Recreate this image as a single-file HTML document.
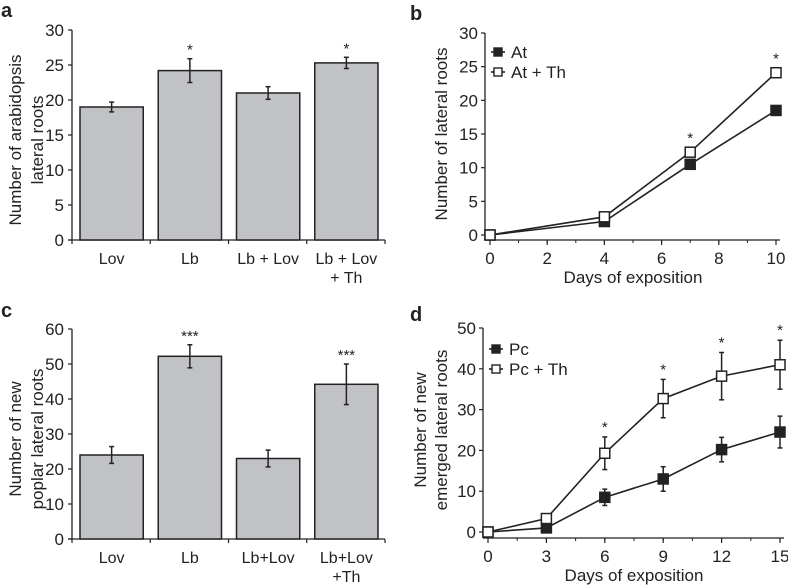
<!DOCTYPE html>
<html><head><meta charset="utf-8"><style>
body{margin:0;background:#fff;}
svg{display:block;font-family:"Liberation Sans",Arial,sans-serif;}
</style></head><body>
<svg id="s" width="788" height="587" viewBox="0 0 788 587"></svg>
<script>
// Panel a
const aCats=[["Lov"],["Lb"],["Lb + Lov"],["Lb + Lov","+ Th"]];
const aVals=[19,24.2,21,25.3];
const aErr=[0.7,1.7,0.9,0.8];
const aSig=["","*","","*"];
const aTicks=[0,5,10,15,20,25,30];
// Panel c
const cCats=[["Lov"],["Lb"],["Lb+Lov"],["Lb+Lov","+Th"]];
const cVals=[24,52.2,23,44.2];
const cErr=[2.4,3.3,2.4,5.8];
const cSig=["","***","","***"];
const cTicks=[0,10,20,30,40,50,60];
// Panel b
const bDays=[0,4,7,10];
const bAt=[0,2,10.5,18.5];
const bAtTh=[0,2.7,12.3,24.1];
const bSig=["","","*","*"];
const bYTicks=[0,5,10,15,20,25,30];
const bXTicks=[0,2,4,6,8,10];
// Panel d
const dDays=[0,3,6,9,12,15];
const dPc=[0,1,8.5,13,20.2,24.5];
const dPcErr=[0,0,2,3,3,3.9];
const dPcTh=[0,3.3,19.3,32.7,38.2,41];
const dPcThErr=[0,0,4,4.7,5.8,6];
const dSig=["","","*","*","*","*"];
const dYTicks=[0,10,20,30,40,50];
const dXTicks=[0,3,6,9,12,15];

const S=document.getElementById('s');
const NS='http://www.w3.org/2000/svg';
function el(t,a,p){const e=document.createElementNS(NS,t);for(const k in a)e.setAttribute(k,a[k]);(p||S).appendChild(e);return e;}
function txt(x,y,s,sz,anc,p){const e=el('text',{x:x,y:y,'font-size':sz,'text-anchor':anc||'middle',fill:'#222'},p);e.textContent=s;return e;}

function barPanel(letter,cats,vals,errs,sig,ticks,x0,x1,yTop,yBot,ymax,title,lblY){
  const g=el('g',{});
  
  
  const Y=v=>yBot-(v/ymax)*(yBot-yTop);
  const lt=txt(1,lblY,letter,20,'start',g);lt.setAttribute('font-weight','bold');
  
  
  el('line',{x1:x0,y1:yTop,x2:x0,y2:yBot,stroke:'#222','stroke-width':1.3},g);
  el('line',{x1:x0-4,y1:yBot,x2:x1,y2:yBot,stroke:'#222','stroke-width':1.3},g);
  ticks.forEach(t=>{
    el('line',{x1:x0-4,y1:Y(t),x2:x0,y2:Y(t),stroke:'#222','stroke-width':1.2},g);
    const tl=txt(x0-8,Y(t)+6,String(t),17,'end',g);
    
    
  });
  const n=cats.length, w=(x1-x0)/n;
  for(let i=0;i<=n;i++){el('line',{x1:x0+i*w,y1:yBot,x2:x0+i*w,y2:yBot+4,stroke:'#222','stroke-width':1.2},g);}
  vals.forEach((v,i)=>{
    const bx=x0+i*w+8, bw=w-15;
    const r=el('rect',{x:bx,y:Y(v),width:bw,height:yBot-Y(v),fill:'#c1c2c5',stroke:'#222','stroke-width':1.5},g);
    
    
    const cx=bx+bw/2;
    el('line',{x1:cx,y1:Y(v+errs[i]),x2:cx,y2:Y(v-errs[i]),stroke:'#222','stroke-width':1.5},g);
    el('line',{x1:cx-2.5,y1:Y(v+errs[i]),x2:cx+2.5,y2:Y(v+errs[i]),stroke:'#222','stroke-width':1.5},g);
    el('line',{x1:cx-2.5,y1:Y(v-errs[i]),x2:cx+2.5,y2:Y(v-errs[i]),stroke:'#222','stroke-width':1.5},g);
    if(sig[i]){const st=txt(cx,Y(v+errs[i])-4,sig[i],15,'middle',g);
      
      }
    cats[i].forEach((l,k)=>{const c=txt(cx,yBot+24+k*19,l,16,'middle',g);
      
      });
  });
  const tg=el('g',{transform:`translate(${43},${(yTop+yBot)/2+5}) rotate(-90)`},g);
  title.forEach((l,k)=>{const t=txt(0,(k-(title.length-1))*22,l,17,'middle',tg);
    
    });
}

function linePanel(letter,xs,s1,e1,s2,e2,sig,yt,xt,xmax,ymax,minor,x0,x1,yTop,yBot,axY,title,leg,legY,lblY){
  const g=el('g',{});
  
  
  const ax=x0-5;
  const X=v=>x0+(v/xmax)*(x1-x0), Y=v=>yBot-(v/ymax)*(yBot-yTop);
  const lt=txt(410,lblY,letter,20,'start',g);lt.setAttribute('font-weight','bold');
  
  
  el('line',{x1:ax,y1:yTop,x2:ax,y2:axY,stroke:'#222','stroke-width':1.3},g);
  el('line',{x1:ax,y1:axY,x2:x1+4,y2:axY,stroke:'#222','stroke-width':1.3},g);
  yt.forEach(t=>{el('line',{x1:ax-4,y1:Y(t),x2:ax,y2:Y(t),stroke:'#222','stroke-width':1.2},g);
    const tl=txt(ax-7,Y(t)+6,String(t),17,'end',g);
    
    });
  for(let v=0;v<=xmax+1e-9;v+=minor){el('line',{x1:X(v),y1:axY,x2:X(v),y2:axY+3,stroke:'#222','stroke-width':1},g);}
  xt.forEach(t=>{el('line',{x1:X(t),y1:axY,x2:X(t),y2:axY+5,stroke:'#222','stroke-width':1.2},g);
    const tl=txt(X(t),axY+24,String(t),17,'middle',g);
    
    });
  const xtitle=txt((x0+x1)/2,axY+43,'Days of exposition',17,'middle',g);
  
  
  const tg=el('g',{transform:`translate(${447},${(yTop+yBot)/2}) rotate(-90)`},g);
  title.forEach((l,k)=>{const t=txt(0,(k-(title.length-1))*21,l,17,'middle',tg);
    
    });
  function series(vals,errs,filled,name){
    const sg=el('g',{},g);
    
    
    if(errs) vals.forEach((v,i)=>{if(errs[i]>0){const cx=X(xs[i]);
      el('line',{x1:cx,y1:Y(v+errs[i]),x2:cx,y2:Y(v-errs[i]),stroke:'#222','stroke-width':1.5},sg);
      el('line',{x1:cx-2.5,y1:Y(v+errs[i]),x2:cx+2.5,y2:Y(v+errs[i]),stroke:'#222','stroke-width':1.5},sg);
      el('line',{x1:cx-2.5,y1:Y(v-errs[i]),x2:cx+2.5,y2:Y(v-errs[i]),stroke:'#222','stroke-width':1.5},sg);}});
    el('polyline',{points:vals.map((v,i)=>X(xs[i])+','+Y(v)).join(' '),fill:'none',stroke:'#222','stroke-width':1.6},sg);
    vals.forEach((v,i)=>{const r=el('rect',{x:X(xs[i])-5,y:Y(v)-5,width:10,height:10,fill:filled?'#222':'#fff',stroke:'#222','stroke-width':1.5},sg);
      
      });
  }
  series(s1,e1,true,'series-'+leg[0].toLowerCase());
  series(s2,e2,false,'series-'+leg[1].toLowerCase().replace(/[^a-z]+/g,'-'));
  sig.forEach((s,i)=>{if(s){const top=s2[i]+(e2?e2[i]:0);const st=txt(X(xs[i]),Y(top)-(e2?5:9),s,15,'middle',g);
    
    }});
  leg.forEach((l,k)=>{const lg=el('g',{},g);
    
    
    const ly=legY+k*20, lx=ax+6;
    el('line',{x1:lx,y1:ly,x2:lx+14,y2:ly,stroke:'#222','stroke-width':1.6},lg);
    el('rect',{x:lx+3,y:ly-4,width:8,height:8,fill:k?'#fff':'#222',stroke:'#222','stroke-width':1.4},lg);
    txt(lx+20,ly+6,l,17,'start',lg);});
}

barPanel('a',aCats,aVals,aErr,aSig,aTicks,72,385,30,240,30,['Number of arabidopsis','lateral roots'],17);
barPanel('c',cCats,cVals,cErr,cSig,cTicks,72,385,329,539,60,['Number of new','poplar lateral roots'],317);
linePanel('b',bDays,bAt,null,bAtTh,null,bSig,bYTicks,bXTicks,10,30,1,490,776,33,235,240,['Number of lateral roots'],['At','At + Th'],52,20);
linePanel('d',dDays,dPc,dPcErr,dPcTh,dPcThErr,dSig,dYTicks,dXTicks,15,50,1.5,488,780,328,532,538,['Number of new','emerged lateral roots'],['Pc','Pc + Th'],349,321);
</script>
</body></html>
